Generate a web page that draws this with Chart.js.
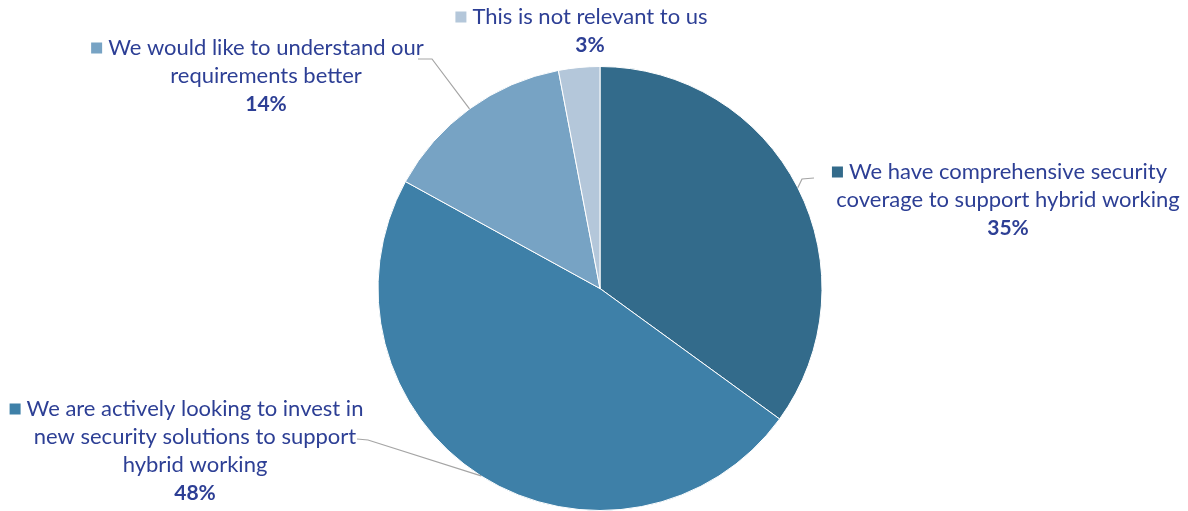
<!DOCTYPE html>
<html>
<head>
<meta charset="utf-8">
<script src="https://cdn.jsdelivr.net/npm/chart.js@4"></script>
<style>
  html, body { margin: 0; padding: 0; background: #fff; }
  #wrap { width: 1188px; height: 511px; position: relative; }
</style>
</head>
<body>
<div id="wrap"><canvas id="pieChart"></canvas></div>
<script>
// values, clockwise from 12 o'clock
const categories = [
  "We have comprehensive security coverage to support hybrid working",
  "We are actively looking to invest in new security solutions to support hybrid working",
  "We would like to understand our requirements better",
  "This is not relevant to us"
];
const shares = [35, 48, 14, 3];
const sliceColors = ["#336b8b", "#3e80a8", "#77a3c4", "#b4c7da"];
// how each label is broken over lines
const labelLines = [
  ["We have comprehensive security", "coverage to support hybrid working"],
  ["We are actively looking to invest in", "new security solutions to support", "hybrid working"],
  ["We would like to understand our", "requirements better"],
  ["This is not relevant to us"]
];

const textColor = "#2d3f95";
const fontFamily = "Lato, 'Open Sans', sans-serif";

// where each label block sits and how its leader bends
const labelLayout = [
  { cx: 1008, y: 172, leader: [[814, 178], [802, 179]] },
  { cx: 195, y: 409, leader: [[357, 439], [368, 440]] },
  { cx: 266, y: 48, leader: [[418, 59], [432, 59]] },
  { cx: 590, y: 17, leader: null }
];

const calloutPlugin = {
  id: "callouts",
  afterDraw(chart) {
    const ctx = chart.ctx;
    const arcs = chart.getDatasetMeta(0).data;
    const lineH = 28;
    ctx.save();
    arcs.forEach(function (arc, i) {
      const lay = labelLayout[i];
      const p = arc.getProps(["x", "y", "startAngle", "endAngle", "outerRadius"], true);
      const mid = (p.startAngle + p.endAngle) / 2;
      const ex = p.x + Math.cos(mid) * p.outerRadius;
      const ey = p.y + Math.sin(mid) * p.outerRadius;

      if (lay.leader) {
        ctx.strokeStyle = "#a5a5a5";
        ctx.lineWidth = 1.2;
        ctx.beginPath();
        ctx.moveTo(lay.leader[0][0], lay.leader[0][1]);
        for (let k = 1; k < lay.leader.length; k++) ctx.lineTo(lay.leader[k][0], lay.leader[k][1]);
        ctx.lineTo(ex, ey);
        ctx.stroke();
      }

      ctx.fillStyle = textColor;
      ctx.textAlign = "center";
      ctx.textBaseline = "middle";
      ctx.font = "22px " + fontFamily;
      const lines = labelLines[i];
      lines.forEach(function (t, k) {
        if (k === 0) {
          // marker square before the first line
          const w = ctx.measureText(t).width;
          const sq = 11, gap = 6;
          ctx.fillStyle = sliceColors[i];
          ctx.fillRect(lay.cx - w / 2 - gap - sq, lay.y - sq / 2, sq, sq);
          ctx.fillStyle = textColor;
        }
        ctx.fillText(t, lay.cx, lay.y + k * lineH);
      });
      ctx.font = "bold 21px " + fontFamily;
      ctx.fillText(shares[i] + "%", lay.cx, lay.y + lines.length * lineH);
    });
    ctx.restore();
  }
};

document.addEventListener("DOMContentLoaded", function () {
  const ctx = document.getElementById("pieChart").getContext("2d");
  new Chart(ctx, {
    type: "pie",
    data: {
      labels: categories,
      datasets: [{
        data: shares,
        backgroundColor: sliceColors,
        borderColor: "#ffffff",
        borderWidth: 1
      }]
    },
    options: {
      responsive: true,
      maintainAspectRatio: false,
      animation: false,
      layout: { padding: { top: 66, bottom: 0, left: 12, right: 0 } },
      plugins: {
        legend: { display: false },
        tooltip: { enabled: false }
      }
    },
    plugins: [calloutPlugin]
  });
});
</script>
</body>
</html>
